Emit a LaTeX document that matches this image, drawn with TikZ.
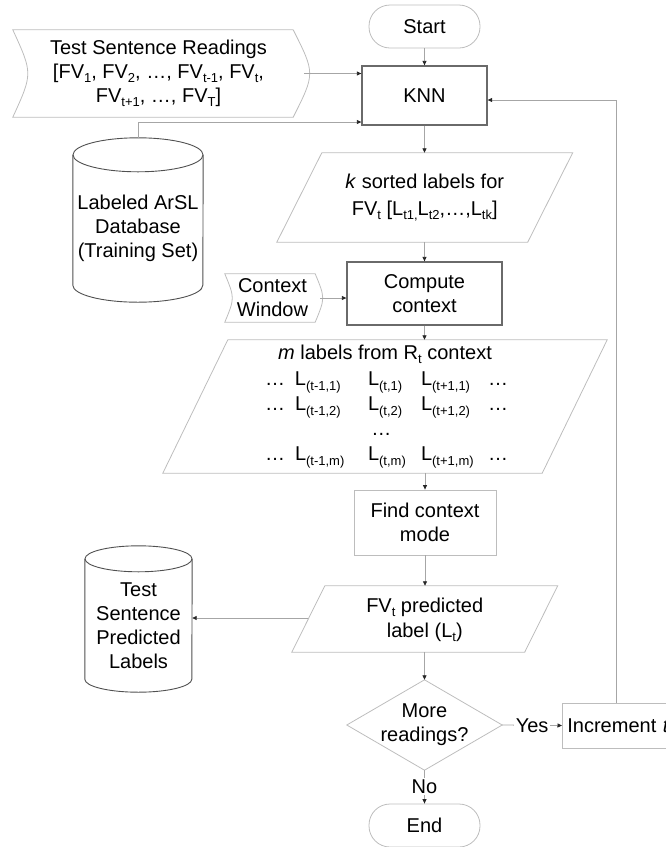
\documentclass[tikz,border=0pt]{standalone}
\usepackage{fontspec}
\setmainfont{Liberation Sans}
\usetikzlibrary{arrows.meta,calc}

% lowered, smaller text used for indices
\newcommand{\lsub}[1]{\raisebox{-0.22em}{\fontsize{13}{13}\selectfont #1}}

\definecolor{shapeline}{HTML}{BDBDBD}
\definecolor{boldline}{HTML}{6A6A6A}
\definecolor{dbline}{HTML}{505050}
\definecolor{wire}{HTML}{A6A6A6}

\begin{document}
\begin{tikzpicture}[x=1pt,y=-1pt,
  every node/.style={font=\fontsize{20}{24}\selectfont, inner sep=0pt, align=center},
  outline/.style={draw=shapeline, line width=0.8pt},
  procbold/.style={draw=boldline, line width=1.3pt},
  proclight/.style={draw=shapeline, line width=0.8pt},
  dbout/.style={draw=dbline, line width=0.9pt},
  term/.style={draw=shapeline, line width=0.8pt, rounded corners=21pt,
               minimum width=111pt, minimum height=43pt},
  flow/.style={draw=wire, line width=0.8pt,
               -{Triangle[length=4.5pt,width=4pt,color=black!85]}},
  flowlabel/.style={fill=white, inner sep=1.5pt}]

\useasboundingbox (0,0) rectangle (666,847);

% ---------- main column ----------
\node[term] (start) at (424.5,26.5) {Start};
\node[procbold, minimum width=125pt, minimum height=59pt] (knn) at (424.5,95.5) {KNN};

\node[minimum width=250.5pt, minimum height=89pt, font=\fontsize{20}{27}\selectfont] (ksort) at (424.75,197.5)
  {\textit{k} sorted labels for\\FV\lsub{t} {[}L\lsub{t1,}L\lsub{t2},…,L\lsub{tk}]};
\draw[outline] ([xshift=22.5pt]ksort.north west) -- ([xshift=22.5pt]ksort.north east)
  -- ([xshift=-22.5pt]ksort.south east) -- ([xshift=-22.5pt]ksort.south west) -- cycle;

\node[procbold, minimum width=155pt, minimum height=63pt] (comp) at (424.5,293.5) {Compute\\context};

\node[minimum width=379pt, minimum height=133pt, font=\fontsize{20}{25}\selectfont] (mlab) at (385,406.5)
  {\textit{m} labels from R\lsub{t} context\\[1.5pt]
   \makebox[30pt][l]{…}\makebox[73pt][l]{L\lsub{(t-1,1)}}\makebox[53pt][l]{L\lsub{(t,1)}}\makebox[67pt][l]{L\lsub{(t+1,1)}}\makebox[17pt][l]{…}\\
   \makebox[30pt][l]{…}\makebox[73pt][l]{L\lsub{(t-1,2)}}\makebox[53pt][l]{L\lsub{(t,2)}}\makebox[67pt][l]{L\lsub{(t+1,2)}}\makebox[17pt][l]{…}\\
   \makebox[30pt][l]{}\makebox[73pt][l]{}\makebox[53pt][l]{\,…}\makebox[67pt][l]{}\makebox[17pt][l]{}\\
   \makebox[30pt][l]{…}\makebox[73pt][l]{L\lsub{(t-1,m)}}\makebox[53pt][l]{L\lsub{(t,m)}}\makebox[67pt][l]{L\lsub{(t+1,m)}}\makebox[17pt][l]{…}};
\draw[outline] ([xshift=32.5pt]mlab.north west) -- ([xshift=32.5pt]mlab.north east)
  -- ([xshift=-32.5pt]mlab.south east) -- ([xshift=-32.5pt]mlab.south west) -- cycle;

\node[proclight, minimum width=142pt, minimum height=65pt] (find) at (425,522.5) {Find context\\mode};

\node[minimum width=232.5pt, minimum height=66pt, font=\fontsize{20}{25}\selectfont] (pred) at (424.75,620)
  {FV\lsub{t} predicted\\label (L\lsub{t})};
\draw[outline] ([xshift=16.5pt,yshift=1pt]pred.north west) -- ([xshift=16.5pt,yshift=1pt]pred.north east)
  -- ([xshift=-16.5pt,yshift=1pt]pred.south east) -- ([xshift=-16.5pt,yshift=1pt]pred.south west) -- cycle;

\node[minimum width=155pt, minimum height=90pt] (more) at (424.5,725) {More\\readings?};
\draw[outline] (more.north) -- (more.east) -- (more.south) -- (more.west) -- cycle;

\node[proclight, anchor=west, minimum height=45pt, text width=108pt, inner xsep=5pt, align=left]
  (incr) at (562,725.5) {Increment \textit{t}};

\node[term] (end) at (424.5,825.5) {End};

% ---------- inputs on the left ----------
\node[minimum width=291pt, minimum height=87pt] (tsr) at (158.5,73.5)
  {Test Sentence Readings\\{[}FV\lsub{1}, FV\lsub{2}, …, FV\lsub{t-1}, FV\lsub{t},\\FV\lsub{t+1}, …, FV\lsub{T}]};
\draw[outline] (tsr.north west) -- ([xshift=-11pt]tsr.north east)
  .. controls ([xshift=11pt]tsr.east) .. ([xshift=-11pt]tsr.south east)
  -- (tsr.south west) .. controls ([xshift=20pt]tsr.west) .. (tsr.north west) -- cycle;

% training database (cylinder)
\node[minimum width=130pt, minimum height=147pt] (db) at (138,228.5)
  {Labeled ArSL\\Database\\(Training Set)};
\draw[dbout] (db.north west) -- ([yshift=17pt]db.south west)
  arc[start angle=180, end angle=360, x radius=65pt, y radius=17pt] -- (db.north east);
\draw[dbout] (db.north) ellipse[x radius=65pt, y radius=17pt];

\node[minimum width=95pt, minimum height=48pt] (ctx) at (272.5,298) {Context\\Window};
\draw[outline] (ctx.north west) -- ([xshift=-5pt]ctx.north east)
  .. controls ([xshift=5pt]ctx.east) .. ([xshift=-5pt]ctx.south east)
  -- (ctx.south west) .. controls ([xshift=10pt]ctx.west) .. (ctx.north west) -- cycle;

% output database (cylinder)
\node[minimum width=107pt, minimum height=133pt] (out) at (138.5,625.5)
  {Test\\Sentence\\Predicted\\Labels};
\draw[dbout] (out.north west) -- ([yshift=13pt]out.south west)
  arc[start angle=180, end angle=360, x radius=53.5pt, y radius=13pt] -- (out.north east);
\draw[dbout] (out.north) ellipse[x radius=53.5pt, y radius=13pt];

% ---------- connectors ----------
\coordinate (loopc) at (616,100);

\draw[flow] (start.south) -- (knn.north);
\draw[flow] (tsr.east) -- (tsr.east -| knn.west);
\draw[flow] ([yshift=17pt]db.north) |- ([yshift=-26.5pt]knn.west);
\draw[flow] (knn.south) -- (knn.south |- ksort.north);
\draw[flow] (ksort.south -| comp.north) -- (comp.north);
\draw[flow] (ctx.east) -- (ctx.east -| comp.west);
\draw[flow] (comp.south) -- (comp.south |- mlab.north);
\draw[flow] (mlab.south -| find.north) -- (find.north);
\draw[flow] (find.south) -- ([yshift=1pt]find.south |- pred.north);
\draw[flow] ([yshift=2pt]pred.west) -- ([yshift=2pt]pred.west -| out.east);
\draw[flow] ([yshift=1pt]pred.south -| more.north) -- (more.north);
\draw[flow] (more.east) -- node[flowlabel] {Yes} (incr.west);
\draw[flow] (more.south) -- node[flowlabel] {No} (end.north);
\draw[flow] (incr.north -| loopc) -- (loopc) -- (loopc -| knn.east);

\end{tikzpicture}
\end{document}
